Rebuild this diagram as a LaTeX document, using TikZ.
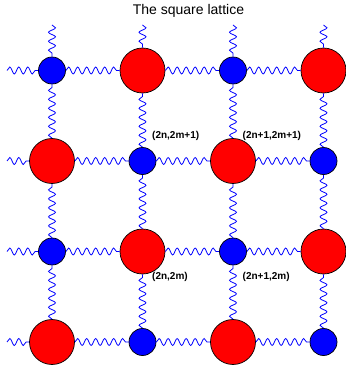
\documentclass[tikz,border=0pt]{standalone}
\usepackage{fontspec}
\setmainfont{Liberation Sans}
\usetikzlibrary{decorations.pathmorphing}
\definecolor{sitered}{HTML}{FF0000}
\definecolor{siteblue}{HTML}{0000FF}

\begin{document}
\begin{tikzpicture}[x=1pt,y=1pt,
  bond/.style={siteblue,line width=0.8pt,decorate,decoration={snake,amplitude=3.5pt,segment length=9pt}},
  bigsite/.style={circle,draw=black,line width=0.7pt,fill=sitered,minimum size=45pt,inner sep=0pt},
  smallsite/.style={circle,draw=black,line width=0.7pt,fill=siteblue,minimum size=27pt,inner sep=0pt},
  cell/.style={font=\fontsize{10}{12}\selectfont\bfseries,anchor=west,inner sep=0pt}]
  \useasboundingbox (0,0) rectangle (346,365);
  \node[font=\fontsize{14}{17}\selectfont] (title) at (188.5,354) {The square lattice};
  % sites: red where i+j is even, free ends on the left and at the top
  \foreach \i in {0,...,3} {
    \foreach \j in {0,...,3} {
      \pgfmathsetmacro{\x}{52 + 90.5*\i}
      \pgfmathsetmacro{\y}{23 + 90.5*\j}
      \pgfmathtruncatemacro{\p}{mod(\i+\j,2)}
      \ifnum\p=0
        \node[bigsite] (s\i\j) at (\x,\y) {};
      \else
        \node[smallsite] (s\i\j) at (\x,\y) {};
      \fi
      \ifnum\i=0 \coordinate (l\j) at (7,\y); \fi
      \ifnum\j=3 \coordinate (t\i) at (\x,340); \fi
    }
  }
  % wavy bonds
  \foreach \j in {0,...,3} {
    \draw[bond] (l\j) -- (s0\j);
    \foreach \i [count=\k] in {0,1,2} \draw[bond] (s\i\j) -- (s\k\j);
  }
  \foreach \i in {0,...,3} {
    \draw[bond] (t\i) -- (s\i3);
    \foreach \j [count=\k] in {0,1,2} \draw[bond] (s\i\j) -- (s\i\k);
  }
  % unit cell labels
  \node[cell] (c01) at ([shift={(9.5,25)}]s12.center) {(2n,2m+1)};
  \node[cell] (c11) at ([shift={(9.5,25)}]s22.center) {(2n+1,2m+1)};
  \node[cell] (c00) at ([shift={(9.5,-25.5)}]s11.center) {(2n,2m)};
  \node[cell] (c10) at ([shift={(9.5,-25.5)}]s21.center) {(2n+1,2m)};
\end{tikzpicture}
\end{document}
